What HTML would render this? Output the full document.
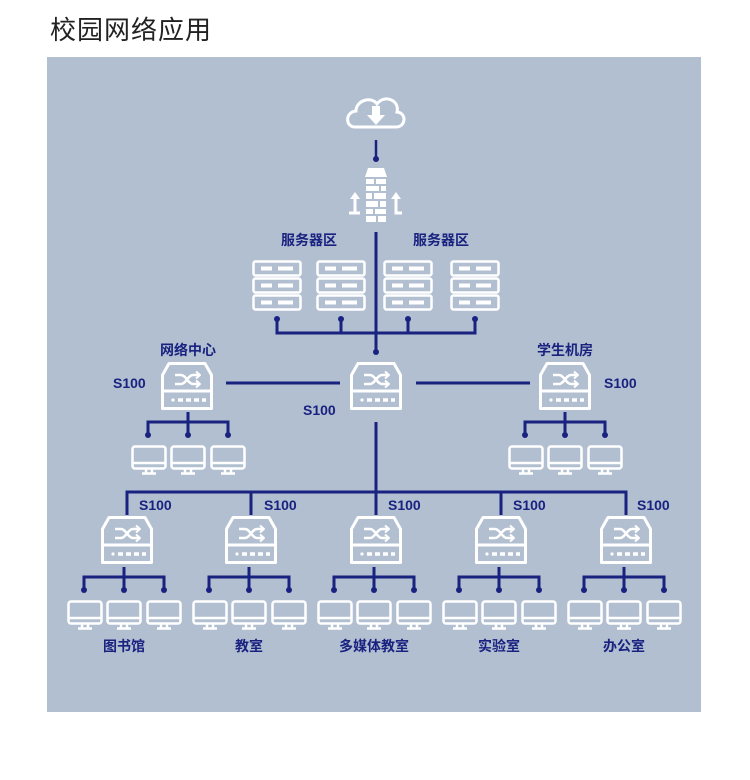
<!DOCTYPE html>
<html><head><meta charset="utf-8">
<style>
html,body{margin:0;padding:0;background:#fff;width:750px;height:780px;overflow:hidden}
.t{position:absolute;left:50px;top:10px;font:26px "Liberation Sans","Noto Sans CJK SC",sans-serif;color:#222;letter-spacing:1px}
svg{position:absolute;left:0;top:0}
text{font-family:"Liberation Sans","Noto Sans CJK SC",sans-serif;fill:#1a2280;font-size:14px;font-weight:bold}
</style></head><body>
<div class="t">校园网络应用</div>
<svg width="750" height="780" viewBox="0 0 750 780">
<defs>
<g id="sw" fill="none" stroke="#fff" stroke-width="3" stroke-linejoin="round">
<path d="M8,1.5 H44 L50.5,13 V46.5 H1.5 V13 Z"/>
<line x1="1.5" y1="29" x2="50.5" y2="29"/>
<path d="M14,13 H20 C25,13 27,22 32,22 H38 M14,22 H20 C25,22 27,13 32,13 H38" stroke-width="2.5"/>
<path d="M35,9.5 L39,13 L35,16.5 M35,18.5 L39,22 L35,25.5" stroke-width="2"/>
<circle cx="12" cy="38" r="1.6" fill="#fff" stroke="none"/>
<path d="M17,38 H22 M25,38 H30 M33,38 H38 M41,38 H45" stroke-width="3.5"/>
</g>
<g id="mon" fill="none" stroke="#fff" stroke-width="2.5">
<rect x="1.5" y="1.5" width="33" height="22" rx="2.5"/>
<line x1="1.5" y1="18" x2="34.5" y2="18"/>
<path d="M15,24 V28 M21,24 V28 M11,28.5 H25"/>
</g>
<g id="srv" fill="none" stroke="#fff" stroke-width="2.5">
<rect x="1.5" y="1.5" width="47" height="14" rx="2"/><rect x="1.5" y="18.5" width="47" height="14" rx="2"/><rect x="1.5" y="35.5" width="47" height="14" rx="2"/>
<path d="M9,8.5 H20 M26,8.5 H41 M9,25.5 H20 M26,25.5 H41 M9,42.5 H20 M26,42.5 H41" stroke-width="4"/>
</g>
<g id="grp">
<path d="M-40,22 V10 H40 V22 M0,0 V22" fill="none" stroke="#1a2280" stroke-width="3"/>
<circle cx="-40" cy="23" r="3" fill="#1a2280"/><circle cx="0" cy="23" r="3" fill="#1a2280"/><circle cx="40" cy="23" r="3" fill="#1a2280"/>
<use href="#mon" x="-57" y="33"/><use href="#mon" x="-18" y="33"/><use href="#mon" x="22" y="33"/>
</g>
</defs>
<rect x="47" y="57" width="654" height="655" fill="#b1bfd1"/>
<path d="M355,127 C345,127 345,112 356,111 C356,100 372,96 377,104 C384,94 400,100 397,112 C407,113 406,127 396,127 Z" fill="none" stroke="#fff" stroke-width="3"/>
<path d="M372,106 H380 V115 H385 L376,125 L367,115 H372 Z" fill="#fff"/>
<line x1="376" y1="140" x2="376" y2="158" stroke="#1a2280" stroke-width="2.5"/><circle cx="376" cy="159" r="3" fill="#1a2280"/>
<path d="M368,168 H384 L387,177 H365 Z" fill="#fff"/>
<g fill="#fff"><rect x="366" y="179" width="8" height="5"/><rect x="376" y="179" width="10" height="5"/><rect x="366" y="186" width="13" height="5"/><rect x="381" y="186" width="5" height="5"/><rect x="366" y="193" width="6" height="6"/><rect x="374" y="193" width="12" height="6"/><rect x="366" y="201" width="12" height="6"/><rect x="380" y="201" width="6" height="6"/><rect x="366" y="209" width="7" height="5"/><rect x="375" y="209" width="11" height="5"/><rect x="366" y="216" width="10" height="6"/><rect x="378" y="216" width="8" height="6"/></g>
<path d="M349,213 H355 V197 M360,213 H355" fill="none" stroke="#fff" stroke-width="3"/>
<path d="M350,199 L355,192 L360,199 Z" fill="#fff"/>
<path d="M402,213 H396 V197" fill="none" stroke="#fff" stroke-width="3"/>
<path d="M391,199 L396,192 L401,199 Z" fill="#fff"/>
<g stroke="#1a2280" stroke-width="3" fill="none">
<line x1="376" y1="232" x2="376" y2="352"/>
<path d="M277,320 V333 H475 V320 M341,320 V333 M408,320 V333"/>
<line x1="226" y1="383" x2="340" y2="383"/>
<line x1="416" y1="383" x2="530" y2="383"/>
<line x1="376" y1="422" x2="376" y2="492"/>
<path d="M127,515 V492 H626 V515 M251,492 V515 M376,492 V515 M501,492 V515"/>
</g>
<g fill="#1a2280"><circle cx="376" cy="352" r="3"/><circle cx="277" cy="319" r="3"/><circle cx="341" cy="319" r="3"/><circle cx="408" cy="319" r="3"/><circle cx="475" cy="319" r="3"/></g>
<use href="#srv" x="252" y="260"/><use href="#srv" x="316" y="260"/><use href="#srv" x="383" y="260"/><use href="#srv" x="450" y="260"/>
<text x="281" y="245">服务器区</text><text x="413" y="245">服务器区</text>
<use href="#sw" x="350" y="362"/><use href="#sw" x="161" y="362"/><use href="#sw" x="539" y="362"/>
<text x="160" y="355">网络中心</text><text x="537" y="355">学生机房</text>
<text x="113" y="388">S100</text><text x="604" y="388">S100</text><text x="303" y="415">S100</text>
<use href="#grp" x="188" y="412"/><use href="#grp" x="565" y="412"/>
<g><use href="#sw" x="101" y="516"/><use href="#sw" x="225" y="516"/><use href="#sw" x="350" y="516"/><use href="#sw" x="475" y="516"/><use href="#sw" x="600" y="516"/></g>
<use href="#grp" x="124" y="567"/><use href="#grp" x="249" y="567"/><use href="#grp" x="374" y="567"/><use href="#grp" x="499" y="567"/><use href="#grp" x="624" y="567"/>
<text x="139" y="510">S100</text><text x="264" y="510">S100</text><text x="388" y="510">S100</text><text x="513" y="510">S100</text><text x="637" y="510">S100</text>
<text x="124" y="651" text-anchor="middle">图书馆</text><text x="249" y="651" text-anchor="middle">教室</text><text x="374" y="651" text-anchor="middle">多媒体教室</text><text x="499" y="651" text-anchor="middle">实验室</text><text x="624" y="651" text-anchor="middle">办公室</text>
</svg>
</body></html>
